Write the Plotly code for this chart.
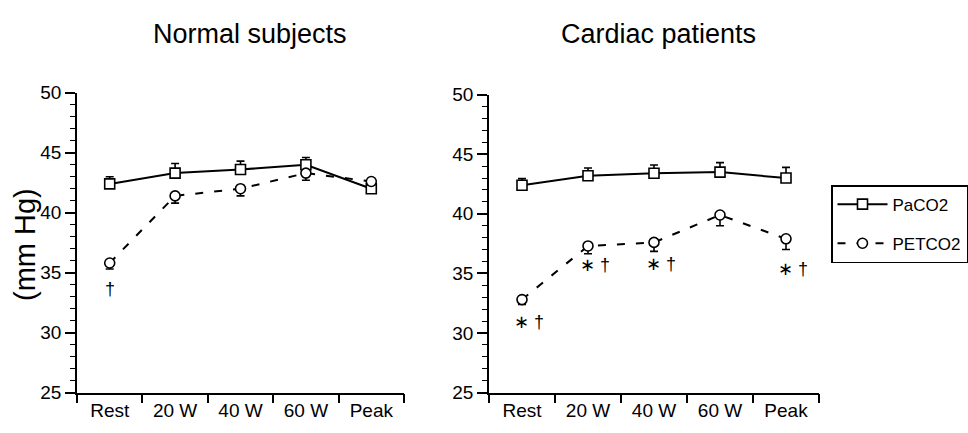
import plotly.graph_objects as go

# Exercise stages on the x axis
stages = ["Rest", "20 W", "40 W", "60 W", "Peak"]

# Normal subjects (mm Hg, mean and SE)
normal_paco2 = [42.4, 43.3, 43.6, 44.0, 42.0]
normal_paco2_se = [0.6, 0.8, 0.7, 0.6, 0.3]
normal_petco2 = [35.8, 41.4, 42.0, 43.3, 42.6]
normal_petco2_se = [0.5, 0.6, 0.6, 0.6, 0.3]

# Cardiac patients (mm Hg, mean and SE)
cardiac_paco2 = [42.4, 43.2, 43.4, 43.5, 43.0]
cardiac_paco2_se = [0.55, 0.65, 0.7, 0.8, 0.9]
cardiac_petco2 = [32.8, 37.3, 37.6, 39.9, 37.9]
cardiac_petco2_se = [0.4, 0.65, 0.75, 0.9, 0.9]

# Significance marks: stage, height, symbol
normal_marks_stage = ["Rest"]
normal_marks_y = [33.6]
normal_marks_text = ["†"]
cardiac_marks_stage = ["Rest", "20 W", "40 W", "Peak"]
cardiac_marks_y = [30.9, 35.7, 35.8, 35.4]
cardiac_marks_text = ["∗ †", "∗ †", "∗ †", "∗ †"]

y_ticks = [25, 30, 35, 40, 45, 50]

FONT = "Liberation Sans, Arial, Helvetica, sans-serif"
W, H = 968, 433

fig = go.Figure()


def add_panel(xa, ya, paco2, paco2_se, petco2, petco2_se, show_legend):
    zeros = [0] * len(stages)
    fig.add_trace(go.Scatter(
        x=stages, y=paco2, xaxis=xa, yaxis=ya, name="PaCO2",
        mode="lines+markers", legendgroup="pa", showlegend=show_legend,
        line=dict(color="black", width=2),
        marker=dict(symbol="square", size=10, color="white",
                    line=dict(color="black", width=1.6)),
        error_y=dict(type="data", symmetric=False, array=paco2_se,
                     arrayminus=zeros, color="black", thickness=1.6, width=4),
    ))
    fig.add_trace(go.Scatter(
        x=stages, y=petco2, xaxis=xa, yaxis=ya, name="PETCO2",
        mode="lines+markers", legendgroup="pet", showlegend=show_legend,
        line=dict(color="black", width=2, dash="8px,11px"),
        marker=dict(symbol="circle", size=10, color="white",
                    line=dict(color="black", width=1.6)),
        error_y=dict(type="data", symmetric=False, array=zeros,
                     arrayminus=petco2_se, color="black", thickness=1.6, width=4),
    ))


add_panel("x", "y", normal_paco2, normal_paco2_se, normal_petco2, normal_petco2_se, True)
add_panel("x2", "y2", cardiac_paco2, cardiac_paco2_se, cardiac_petco2, cardiac_petco2_se, False)

annotations = []
for s, yv, t in zip(normal_marks_stage, normal_marks_y, normal_marks_text):
    annotations.append(dict(x=s, y=yv, xref="x", yref="y", text=t, showarrow=False,
                            font=dict(size=18, color="black", family=FONT)))
for s, yv, t in zip(cardiac_marks_stage, cardiac_marks_y, cardiac_marks_text):
    annotations.append(dict(x=s, y=yv, xref="x2", yref="y2", text=t, showarrow=False,
                            xshift=7, font=dict(size=18, color="black", family=FONT)))

annotations += [
    dict(x=250 / W, y=1 - 25 / H, xref="paper", yref="paper", text="Normal subjects",
         showarrow=False, xanchor="center", yanchor="middle",
         font=dict(size=27, color="black", family=FONT)),
    dict(x=658 / W, y=1 - 25 / H, xref="paper", yref="paper", text="Cardiac patients",
         showarrow=False, xanchor="center", yanchor="middle",
         font=dict(size=27, color="black", family=FONT)),
    dict(x=25 / W, y=1 - 247 / H, xref="paper", yref="paper", text="(mm Hg)",
         showarrow=False, textangle=-90, xanchor="center", yanchor="middle",
         font=dict(size=29, color="black", family=FONT)),
]


def xaxis_style(x0, x1, anchor):
    return dict(
        domain=[x0 / W, x1 / W], anchor=anchor, type="category",
        categoryorder="array", categoryarray=stages, range=[-0.5, 4.5],
        tickson="boundaries", ticks="outside", ticklen=9, tickwidth=1.5,
        tickcolor="black", showline=True, linecolor="black", linewidth=1.8,
        showgrid=False, zeroline=False, fixedrange=True,
        tickfont=dict(size=19, color="black", family=FONT),
    )


def yaxis_style(y0, y1, anchor):
    return dict(
        domain=[1 - y1 / H, 1 - y0 / H], anchor=anchor, range=[25, 50],
        tickvals=y_ticks, ticks="outside", ticklen=10, tickwidth=1.5,
        tickcolor="black", showline=True, linecolor="black", linewidth=1.8,
        minor=dict(dtick=1, tick0=25, ticks="outside", ticklen=5,
                   tickwidth=1, tickcolor="black", showgrid=False),
        showgrid=False, zeroline=False, fixedrange=True,
        tickfont=dict(size=19, color="black", family=FONT),
    )


fig.update_layout(
    width=W, height=H,
    margin=dict(l=0, r=0, t=0, b=0),
    paper_bgcolor="white", plot_bgcolor="white",
    font=dict(family=FONT, color="black"),
    xaxis=xaxis_style(77, 404, "y"),
    yaxis=yaxis_style(87, 402, "x"),
    xaxis2=xaxis_style(489, 819, "y2"),
    yaxis2=yaxis_style(89, 402, "x2"),
    annotations=annotations,
    legend=dict(
        x=831 / W, y=1 - 184 / H, xanchor="left", yanchor="top",
        bordercolor="black", borderwidth=1.5, bgcolor="white",
        font=dict(size=17, color="black", family=FONT),
        traceorder="grouped", tracegroupgap=14, itemwidth=50,
    ),
    showlegend=True,
)

fig.write_html("out.html")
